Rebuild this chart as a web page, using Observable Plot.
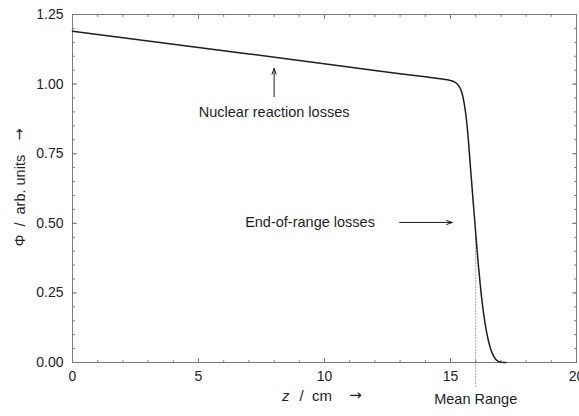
<!DOCTYPE html>
<html>
<head>
<meta charset="utf-8">
<script src="https://cdn.jsdelivr.net/npm/d3@7"></script>
<script src="https://cdn.jsdelivr.net/npm/@observablehq/plot@0.6"></script>
<style>
  body { margin: 0; background: #fff; }
  #chart svg { font-family: "Liberation Sans", Arial, Helvetica, sans-serif; }
</style>
</head>
<body>
<div id="chart"></div>
<script>
// Depth in the absorber (cm) and relative fluence of primary protons
const depth = [0, 3, 6, 9, 12, 14, 14.6, 15.0, 15.15, 15.27, 15.38, 15.46, 15.53, 15.6, 15.69,
  15.79, 15.9, 16.0, 16.1, 16.2, 16.3, 16.4, 16.5, 16.6, 16.7, 16.8, 16.9, 17.05, 17.2];
const fluence = [1.19, 1.155, 1.12, 1.085, 1.049, 1.026, 1.019, 1.013, 1.008, 1.0, 0.986, 0.966, 0.937, 0.897, 0.82,
  0.703, 0.578, 0.465, 0.355, 0.262, 0.185, 0.125, 0.08, 0.047, 0.025, 0.011, 0.004, 0.001, 0];

// Mean range of the beam
const meanRange = 16.0;

// Axis ticks
const xMajor = [0, 5, 10, 15, 20];
const yMajor = [0, 0.25, 0.5, 0.75, 1.0, 1.25];
const xMinor = d3.range(0, 21);
const yMinor = d3.range(0, 26).map(i => i * 0.05);

const rows = depth.map((z, i) => ({z, phi: fluence[i]}));

const ink = "#1e1e1e";
const frameGray = "#7a7a7a";
const arrowFont = "DejaVu Sans";
const nb = "\u00a0";

// Inward tick stroke drawn from the anchor point
const tickShape = {draw(context, l) { context.moveTo(0, 0); context.lineTo(0, -l); }};
const ticks = (data, opts) => Plot.vector(data, {
  shape: tickShape, anchor: "start", stroke: frameGray, strokeWidth: 1, ...opts
});

const chart = Plot.plot({
  width: 579,
  height: 416,
  marginLeft: 72,
  marginRight: 3,
  marginTop: 14,
  marginBottom: 54,
  style: {fontSize: "14px", color: ink, background: "#fff", overflow: "visible"},
  x: {domain: [0, 20]},
  y: {domain: [0, 1.25]},
  marks: [
    Plot.frame({stroke: frameGray}),
    // minor and major ticks on all four sides
    ticks(xMinor, {x: d => d, frameAnchor: "bottom", length: 2, rotate: 0}),
    ticks(xMinor, {x: d => d, frameAnchor: "top", length: 2, rotate: 180}),
    ticks(xMajor, {x: d => d, frameAnchor: "bottom", length: 4, rotate: 0}),
    ticks(xMajor, {x: d => d, frameAnchor: "top", length: 4, rotate: 180}),
    ticks(yMinor, {y: d => d, frameAnchor: "left", length: 2, rotate: 90}),
    ticks(yMinor, {y: d => d, frameAnchor: "right", length: 2, rotate: -90}),
    ticks(yMajor, {y: d => d, frameAnchor: "left", length: 4, rotate: 90}),
    ticks(yMajor, {y: d => d, frameAnchor: "right", length: 4, rotate: -90}),
    Plot.axisX(xMajor, {tickSize: 0, tickPadding: 9, label: null, fontSize: 14, fill: ink}),
    Plot.axisY(yMajor, {tickSize: 0, tickPadding: 9, label: null, fontSize: 14, fill: ink,
      tickFormat: d3.format(".2f")}),
    // mean range marker
    Plot.ruleX([meanRange], {y1: 0.465, y2: 0, insetBottom: -26, stroke: "#555",
      strokeWidth: 1, strokeDasharray: "1,2"}),
    Plot.text(["Mean Range"], {x: meanRange, frameAnchor: "bottom", dy: 41,
      fontSize: 14.5, fill: ink}),
    // fluence curve
    Plot.line(rows, {x: "z", y: "phi", stroke: ink, strokeWidth: 1.5, curve: "monotone-x"}),
    // annotations
    Plot.arrow({length: 1}, {x1: 8, y1: 0.955, x2: 8, y2: 1.056, stroke: ink, strokeWidth: 1,
      headLength: 9, headAngle: 40}),
    Plot.text(["Nuclear reaction losses"], {x: 8, y: 0.9, fontSize: 14.5, fill: ink}),
    Plot.arrow({length: 1}, {x1: 12.98, y1: 0.503, x2: 15.07, y2: 0.503, stroke: ink, strokeWidth: 1,
      headLength: 9, headAngle: 40}),
    Plot.text(["End-of-range losses"], {x: 12, y: 0.503, textAnchor: "end", fontSize: 14.5, fill: ink}),
    // axis labels
    Plot.text(["z"], {x: 10, frameAnchor: "bottom", dy: 38, dx: -35, textAnchor: "end",
      fontSize: 15, fontStyle: "italic", fill: ink}),
    Plot.text([`/${nb}${nb}cm`], {x: 10, frameAnchor: "bottom", dy: 38, dx: -25, textAnchor: "start",
      fontSize: 15, fill: ink}),
    Plot.text(["\u2192"], {x: 10, frameAnchor: "bottom", dy: 37, dx: 31, fontSize: 15,
      fontFamily: arrowFont, fill: ink}),
    Plot.text([`\u03A6${nb}${nb}/${nb}${nb}arb.${nb}units`], {frameAnchor: "left", textAnchor: "middle",
      dx: -52, dy: 12, rotate: -90, fontSize: 14.5, fill: ink}),
    Plot.text(["\u2192"], {frameAnchor: "left", textAnchor: "middle", dx: -53, dy: -54, rotate: -90,
      fontSize: 14.5, fontFamily: arrowFont, fill: ink})
  ]
});

document.getElementById("chart").append(chart);
</script>
</body>
</html>
